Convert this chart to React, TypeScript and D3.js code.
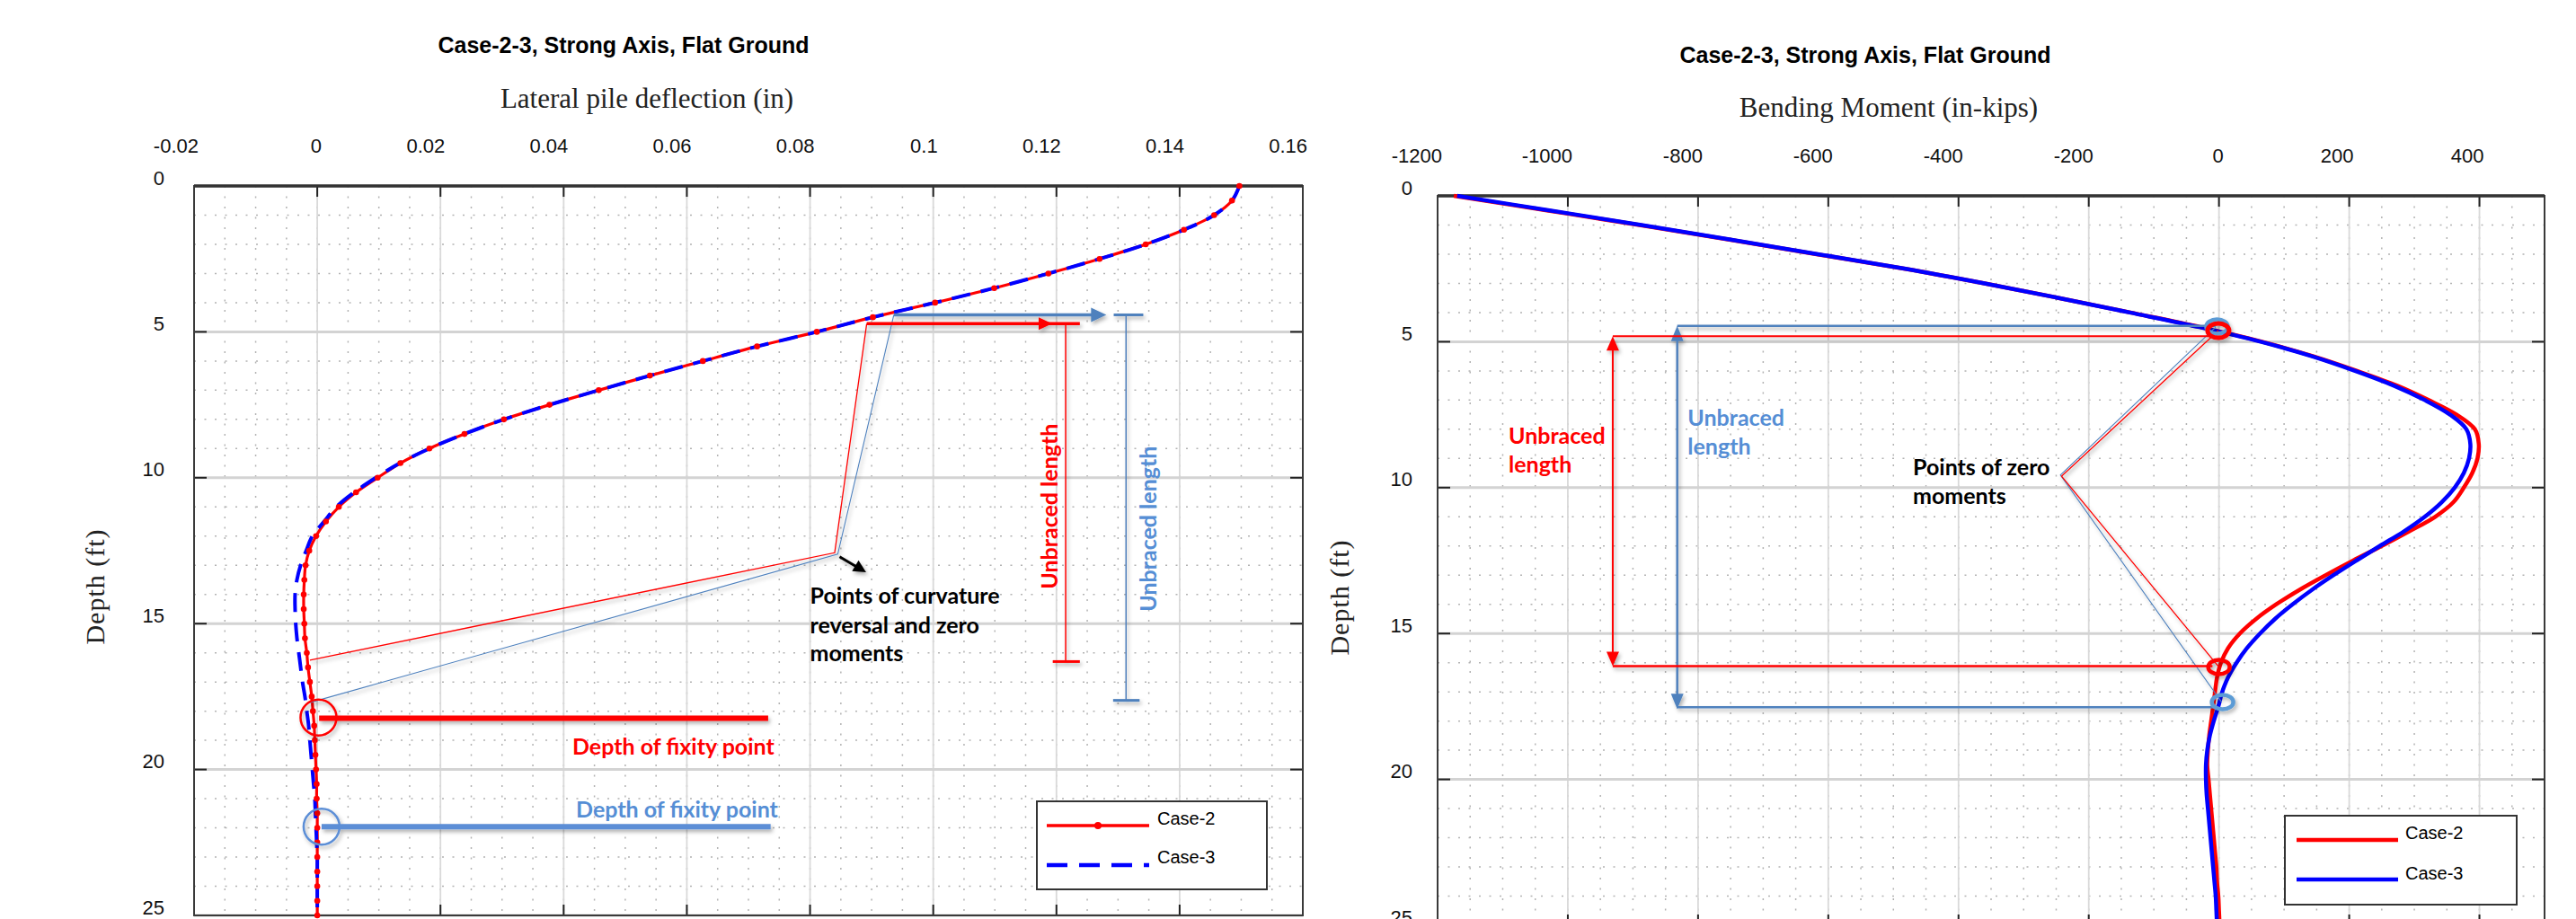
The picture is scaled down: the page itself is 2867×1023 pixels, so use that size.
import React from 'react';
import * as d3 from 'd3';

// depth below ground surface (ft), one entry per pile node
const depthFt = [0, 0.5, 1, 1.5, 2, 2.5, 3, 3.5, 4, 4.5, 5, 5.5, 6, 6.5, 7, 7.5, 8, 8.5, 9, 9.5, 10, 10.5, 11, 11.5, 12, 12.5, 13, 13.5, 14, 14.5, 15, 15.5, 16, 16.5, 17, 17.5, 18, 18.5, 19, 19.5, 20, 20.5, 21, 21.5, 22, 22.5, 23, 23.5, 24, 24.5, 25];

// lateral pile deflection (in)
const deflCase2 = [0.1497, 0.1485, 0.1456, 0.1407, 0.1345, 0.127, 0.1187, 0.1099, 0.1003, 0.0902, 0.0811, 0.0714, 0.0626, 0.054, 0.0457, 0.0377, 0.0303, 0.0239, 0.0182, 0.0135, 0.0098, 0.0063, 0.0035, 0.0014, -0.0002, -0.0013, -0.0019, -0.0021, -0.0022, -0.0022, -0.0021, -0.002, -0.0017, -0.0015, -0.0012, -0.0009, -0.0007, -0.0005, -0.0004, -0.0003, -0.0002, -0.0001, -0.0001, 0, 0, 0, 0, 0, 0, 0, 0];
const deflCase3 = [0.1497, 0.1485, 0.1456, 0.1407, 0.1345, 0.127, 0.1187, 0.1099, 0.1003, 0.0902, 0.0811, 0.0714, 0.0626, 0.054, 0.0457, 0.0377, 0.0303, 0.0239, 0.0182, 0.0134, 0.0095, 0.006, 0.0031, 0.0011, -0.0008, -0.0018, -0.0027, -0.0033, -0.0036, -0.0036, -0.0035, -0.0033, -0.003, -0.0027, -0.0024, -0.002, -0.0017, -0.0014, -0.0012, -0.001, -0.0008, -0.0006, -0.0004, -0.0003, -0.0002, -0.0001, 0, 0, 0, 0, 0];

// bending moment (in-kips)
const momCase2 = [-1175, -1032, -890, -752, -618, -482, -360, -246, -136, -28, 66, 145, 212, 273, 322, 365, 393, 399, 397, 389, 376, 360, 332, 292, 250, 206, 164, 124, 88, 57, 32, 14, 3, -3, -6, -9, -12, -15, -17, -18, -16, -14, -12, -10, -8, -6, -4, -3, -1, 0, 1];
const momCase3 = [-1170, -1028, -887, -750, -616, -481, -360, -246, -137, -30, 64, 143, 209, 268, 316, 355, 380, 386, 384, 376, 362, 342, 316, 284, 247, 211, 176, 143, 113, 86, 63, 43, 27, 14, 5, -1, -8, -14, -18, -20, -20, -19, -17, -15, -13, -11, -9, -7, -5, -4, -3];

const deflTicks = [-0.02, 0, 0.02, 0.04, 0.06, 0.08, 0.1, 0.12, 0.14, 0.16];
const momTicks = [-1200, -1000, -800, -600, -400, -200, 0, 200, 400];
const depthTicks = [0, 5, 10, 15, 20, 25];
const seriesNames = ['Case-2', 'Case-3'];

const W = 2867;
const H = 1023;
const RED = '#ff0000';
const BLUE = '#0000ff';
const ANN_BLUE = '#4f81bd';
const ANN_BLUE_TXT = '#558ed5';
const SANS = '"Liberation Sans", Arial, sans-serif';
const SERIF = '"Liberation Serif", "Times New Roman", serif';
const NOTE = 'Lato, "Open Sans", sans-serif';

// triangle for an arrow head, tip at (x,y) pointing along (dx,dy)
function head(x, y, dx, dy, len, half) {
  const n = Math.hypot(dx, dy);
  const ux = dx / n, uy = dy / n;
  const bx = x - ux * len, by = y - uy * len;
  return `${x},${y} ${bx - uy * half},${by + ux * half} ${bx + uy * half},${by - ux * half}`;
}

function Frame({ x, y, majorX, minorX, minorY, labelGap, fmt }) {
  const [x0, x1] = x.range();
  const [y0, y1] = y.range();
  return (
    <g>
      {minorX.map((v) => (
        <line key={'mx' + v} x1={x(v)} x2={x(v)} y1={y0} y2={y1} stroke="#b3b3b3" strokeWidth={1.5} strokeDasharray="2,9.5" />
      ))}
      {minorY.map((v) => (
        <line key={'my' + v} x1={x0} x2={x1} y1={y(v)} y2={y(v)} stroke="#b3b3b3" strokeWidth={1.5} strokeDasharray="2,9.5" />
      ))}
      {majorX.map((v) => (
        <line key={'gx' + v} x1={x(v)} x2={x(v)} y1={y0} y2={y1} stroke="#d9d9d9" strokeWidth={1.8} />
      ))}
      {depthTicks.map((v) => (
        <line key={'gy' + v} x1={x0} x2={x1} y1={y(v)} y2={y(v)} stroke="#d3d3d3" strokeWidth={3} />
      ))}
      {majorX.map((v) => (
        <g key={'tx' + v}>
          <line x1={x(v)} x2={x(v)} y1={y0} y2={y0 + 12} stroke="#222" strokeWidth={2} />
          <line x1={x(v)} x2={x(v)} y1={y1} y2={y1 - 12} stroke="#222" strokeWidth={2} />
          <text x={x(v) + 5} y={y0 - 37} textAnchor="end" fontFamily={SANS} fontSize={22} fill="#111">
            {fmt(v)}
          </text>
        </g>
      ))}
      {depthTicks.map((v) => (
        <g key={'ty' + v}>
          <line x1={x0} x2={x0 + 14} y1={y(v)} y2={y(v)} stroke="#222" strokeWidth={2} />
          <line x1={x1} x2={x1 - 14} y1={y(v)} y2={y(v)} stroke="#222" strokeWidth={2} />
          <text x={x0 - labelGap} y={y(v) - 1.5} textAnchor="end" fontFamily={SANS} fontSize={22} fill="#111">
            {v}
          </text>
        </g>
      ))}
      <rect x={x0} y={y0} width={x1 - x0} height={y1 - y0} fill="none" stroke="#3a3a3a" strokeWidth={2} />
      <line x1={x0} x2={x1} y1={y0} y2={y0} stroke="#333" strokeWidth={3.5} />
    </g>
  );
}

export default function App() {
  const xL = d3.scaleLinear().domain([-0.02, 0.16]).range([216, 1450]);
  const yL = d3.scaleLinear().domain([0, 25]).range([207, 1019]);
  const xR = d3.scaleLinear().domain([-1200, 500]).range([1600, 2832]);
  const yR = d3.scaleLinear().domain([0, 25]).range([218, 1030]);

  const deflLine = (vals) =>
    d3.line().x((d, i) => xL(vals[i])).y((d, i) => yL(depthFt[i])).curve(d3.curveCatmullRom)(depthFt);
  const momLine = (vals) =>
    d3.line().x((d, i) => xR(vals[i])).y((d, i) => yR(depthFt[i])).curve(d3.curveCatmullRom)(depthFt);

  const noteStyle = { fontFamily: NOTE, fontWeight: 700, fontSize: 25 };

  return (
    <svg width={W} height={H} style={{ position: 'absolute', left: 0, top: 0, background: '#fff' }}>
      <defs>
        <filter id="annShadow" filterUnits="userSpaceOnUse" x={0} y={0} width={W} height={H}>
          <feDropShadow dx={2} dy={3} stdDeviation={2} floodColor="#000" floodOpacity={0.3} />
        </filter>
      </defs>
      <rect width={W} height={H} fill="#fff" />

      {/* ---------- left: deflection ---------- */}
      <text x={694} y={59} textAnchor="middle" fontFamily={SANS} fontWeight="bold" fontSize={25}>
        Case-2-3, Strong Axis, Flat Ground
      </text>
      <text x={720} y={120} textAnchor="middle" fontFamily={SERIF} fontSize={31} fill="#222">
        Lateral pile deflection (in)
      </text>
      <text transform="translate(106,653) rotate(-90)" y={10} textAnchor="middle" fontFamily={SERIF} fontSize={30} letterSpacing={1} fill="#222">
        Depth (ft)
      </text>
      <Frame x={xL} y={yL} majorX={deflTicks} minorX={xL.ticks(36)} minorY={yL.ticks(25)} labelGap={33} fmt={(v) => String(v)} />

      <path d={deflLine(deflCase2)} fill="none" stroke={RED} strokeWidth={3.2} />
      <path d={deflLine(deflCase3)} fill="none" stroke={BLUE} strokeWidth={4} strokeDasharray="21,12" />
      {depthFt.map((d, i) => (
        <circle key={'m' + i} cx={xL(deflCase2[i])} cy={yL(d)} r={3.3} fill={RED} />
      ))}

      <g filter="url(#annShadow)">
        <polyline points={`${xL(0.0892)},${yL(4.72)} ${xL(0.084)},${yL(12.57)} ${xL(-0.0012)},${yL(16.25)}`} fill="none" stroke={RED} strokeWidth={1.3} />
        <polyline points={`${xL(0.0936)},${yL(4.42)} ${xL(0.0845)},${yL(12.62)} ${xL(-0.0016)},${yL(17.73)}`} fill="none" stroke={ANN_BLUE} strokeWidth={1.1} />

        <line x1={xL(0.0936)} x2={xL(0.127)} y1={yL(4.42)} y2={yL(4.42)} stroke={ANN_BLUE} strokeWidth={3.5} />
        <polygon points={head(xL(0.1281), yL(4.42), 1, 0, 17, 8)} fill={ANN_BLUE} />
        <line x1={xL(0.1293)} x2={xL(0.1341)} y1={yL(4.42)} y2={yL(4.42)} stroke={ANN_BLUE} strokeWidth={3} />
        <line x1={xL(0.1313)} x2={xL(0.1313)} y1={yL(4.42)} y2={yL(17.63)} stroke={ANN_BLUE} strokeWidth={1.5} />
        <line x1={xL(0.1292)} x2={xL(0.1335)} y1={yL(17.63)} y2={yL(17.63)} stroke={ANN_BLUE} strokeWidth={3} />

        <line x1={xL(0.0892)} x2={xL(0.1238)} y1={yL(4.72)} y2={yL(4.72)} stroke={RED} strokeWidth={3.5} />
        <polygon points={head(xL(0.1193), yL(4.72), 1, 0, 15, 7)} fill={RED} />
        <line x1={xL(0.1215)} x2={xL(0.1215)} y1={yL(4.72)} y2={yL(16.3)} stroke={RED} strokeWidth={1.5} />
        <line x1={xL(0.1194)} x2={xL(0.1238)} y1={yL(16.3)} y2={yL(16.3)} stroke={RED} strokeWidth={3} />

        <line x1={xL(0.0003)} x2={xL(0.0732)} y1={yL(18.24)} y2={yL(18.24)} stroke={RED} strokeWidth={6} />
        <circle cx={xL(0.0002)} cy={yL(18.22)} r={20} fill="none" stroke={RED} strokeWidth={2.5} />
        <line x1={xL(0.0007)} x2={xL(0.0736)} y1={yL(21.96)} y2={yL(21.96)} stroke="#5b8ed6" strokeWidth={6} />
        <circle cx={xL(0.0007)} cy={yL(21.96)} r={20} fill="none" stroke="#5b8ed6" strokeWidth={2.5} />

        <line x1={xL(0.0848)} y1={yL(12.71)} x2={xL(0.0885)} y2={yL(13.17)} stroke="#000" strokeWidth={3} />
        <polygon points={head(xL(0.0891), yL(13.24), 29, 17.3, 14, 7)} fill="#000" />
      </g>

      <text {...noteStyle} x={xL(0.08)} y={yL(14.33)} fill="#000">Points of curvature</text>
      <text {...noteStyle} x={xL(0.08)} y={yL(15.32)} fill="#000">reversal and zero</text>
      <text {...noteStyle} x={xL(0.08)} y={yL(16.3)} fill="#000">moments</text>
      <text {...noteStyle} x={xL(0.0742)} y={yL(19.2) + 9} textAnchor="end" fill={RED}>Depth of fixity point</text>
      <text {...noteStyle} x={xL(0.0748)} y={yL(21.38) + 9} textAnchor="end" fill={ANN_BLUE_TXT}>Depth of fixity point</text>
      <text {...noteStyle} transform={`translate(${xL(0.1188)},${yL(10.98)}) rotate(-90)`} y={9} textAnchor="middle" fill={RED}>
        Unbraced length
      </text>
      <text {...noteStyle} transform={`translate(${xL(0.1349)},${yL(11.75)}) rotate(-90)`} y={9} textAnchor="middle" fill={ANN_BLUE_TXT}>
        Unbraced length
      </text>

      <g>
        <rect x={1154} y={892} width={256} height={98} fill="#fff" stroke="#333" strokeWidth={2} />
        <line x1={1165} x2={1279} y1={919} y2={919} stroke={RED} strokeWidth={3.5} />
        <circle cx={1222} cy={919} r={4} fill={RED} />
        <text x={1288} y={918} fontFamily={SANS} fontSize={20}>{seriesNames[0]}</text>
        <line x1={1165} x2={1279} y1={963} y2={963} stroke={BLUE} strokeWidth={4.5} strokeDasharray="23,13" />
        <text x={1288} y={961} fontFamily={SANS} fontSize={20}>{seriesNames[1]}</text>
      </g>

      {/* ---------- right: bending moment ---------- */}
      <text x={2076} y={70} textAnchor="middle" fontFamily={SANS} fontWeight="bold" fontSize={25}>
        Case-2-3, Strong Axis, Flat Ground
      </text>
      <text x={2102} y={130} textAnchor="middle" fontFamily={SERIF} fontSize={31} fill="#222">
        Bending Moment (in-kips)
      </text>
      <text transform="translate(1491,665) rotate(-90)" y={10} textAnchor="middle" fontFamily={SERIF} fontSize={30} letterSpacing={1} fill="#222">
        Depth (ft)
      </text>
      <Frame x={xR} y={yR} majorX={momTicks} minorX={xR.ticks(34)} minorY={yR.ticks(25)} labelGap={28} fmt={(v) => String(v)} />

      <path d={momLine(momCase2)} fill="none" stroke={RED} strokeWidth={4.5} />
      <path d={momLine(momCase3)} fill="none" stroke={BLUE} strokeWidth={4.5} />

      <g filter="url(#annShadow)">
        <polyline points={`${xR(-5)},${yR(4.5)} ${xR(-243.5)},${yR(9.57)} ${xR(4)},${yR(17.35)}`} fill="none" stroke={ANN_BLUE} strokeWidth={1.1} />
        <polyline points={`${xR(-1)},${yR(4.62)} ${xR(-241.7)},${yR(9.61)} ${xR(0)},${yR(16.15)}`} fill="none" stroke={RED} strokeWidth={1.3} />

        <line x1={xR(-832)} x2={xR(-5)} y1={yR(4.46)} y2={yR(4.46)} stroke={ANN_BLUE} strokeWidth={2.5} />
        <line x1={xR(-832)} x2={xR(-5)} y1={yR(17.53)} y2={yR(17.53)} stroke={ANN_BLUE} strokeWidth={2.5} />
        <line x1={xR(-832)} x2={xR(-832)} y1={yR(4.46) + 14} y2={yR(17.59) - 14} stroke={ANN_BLUE} strokeWidth={2.5} />
        <polygon points={head(xR(-832), yR(4.46), 0, -1, 17, 7)} fill={ANN_BLUE} />
        <polygon points={head(xR(-832), yR(17.59), 0, 1, 17, 7)} fill={ANN_BLUE} />

        <line x1={xR(-931)} x2={xR(-12)} y1={yR(4.81)} y2={yR(4.81)} stroke={RED} strokeWidth={2} />
        <line x1={xR(-931)} x2={xR(-10)} y1={yR(16.12)} y2={yR(16.12)} stroke={RED} strokeWidth={2.5} />
        <line x1={xR(-931)} x2={xR(-931)} y1={yR(4.81) + 14} y2={yR(16.12) - 14} stroke={RED} strokeWidth={2} />
        <polygon points={head(xR(-931), yR(4.81), 0, -1, 16, 7)} fill={RED} />
        <polygon points={head(xR(-931), yR(16.12), 0, 1, 16, 7)} fill={RED} />

        <ellipse cx={xR(-3)} cy={yR(4.48)} rx={12} ry={8} fill="none" stroke="#5b9bd5" strokeWidth={4.5} />
        <ellipse cx={xR(-1)} cy={yR(4.62)} rx={12} ry={8} fill="none" stroke={RED} strokeWidth={5} />
        <ellipse cx={xR(0)} cy={yR(16.15)} rx={12} ry={8} fill="none" stroke={RED} strokeWidth={4.5} />
        <ellipse cx={xR(5.5)} cy={yR(17.35)} rx={12} ry={8} fill="none" stroke="#5b9bd5" strokeWidth={4.5} />
      </g>

      <text {...noteStyle} x={xR(-1091)} y={yR(8.22) + 9} fill={RED}>Unbraced</text>
      <text {...noteStyle} x={xR(-1091)} y={yR(9.2) + 9} fill={RED}>length</text>
      <text {...noteStyle} x={xR(-816)} y={yR(7.61) + 9} fill={ANN_BLUE_TXT}>Unbraced</text>
      <text {...noteStyle} x={xR(-816)} y={yR(8.58) + 9} fill={ANN_BLUE_TXT}>length</text>
      <text {...noteStyle} x={xR(-470)} y={yR(9.3) + 9} fill="#000">Points of zero</text>
      <text {...noteStyle} x={xR(-470)} y={yR(10.27) + 9} fill="#000">moments</text>

      <g>
        <rect x={2543} y={908} width={258} height={99} fill="#fff" stroke="#333" strokeWidth={2} />
        <line x1={2556} x2={2669} y1={935} y2={935} stroke={RED} strokeWidth={4.5} />
        <text x={2677} y={934} fontFamily={SANS} fontSize={20}>{seriesNames[0]}</text>
        <line x1={2556} x2={2669} y1={979} y2={979} stroke={BLUE} strokeWidth={4.5} />
        <text x={2677} y={979} fontFamily={SANS} fontSize={20}>{seriesNames[1]}</text>
      </g>
    </svg>
  );
}
